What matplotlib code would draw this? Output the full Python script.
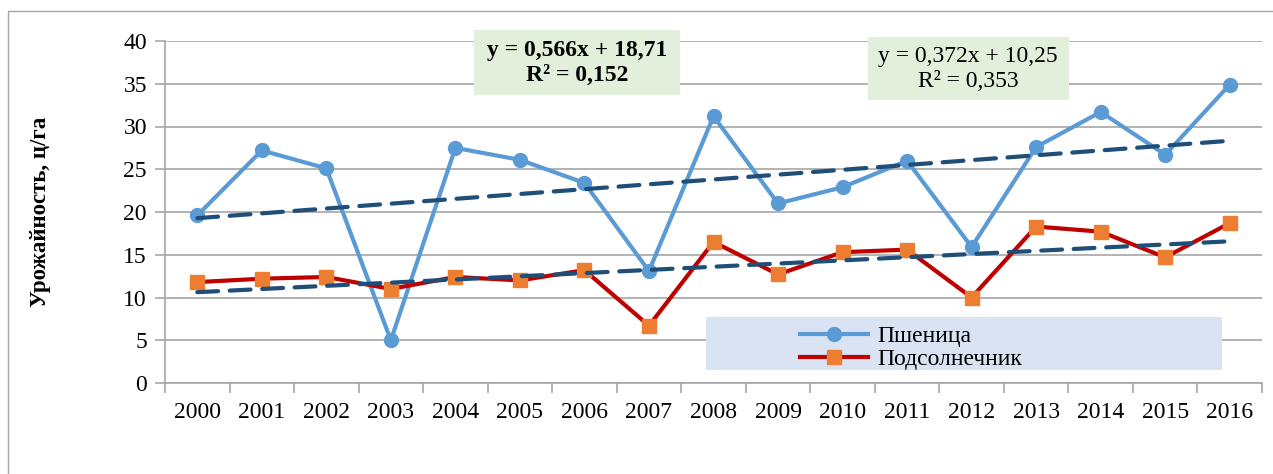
import matplotlib.pyplot as plt
from matplotlib.patches import Rectangle
from matplotlib.lines import Line2D

plt.rcParams['font.family'] = ['Liberation Serif', 'DejaVu Serif']

years = [str(y) for y in range(2000, 2017)]
wheat = [19.6, 27.2, 25.1, 5.0, 27.5, 26.1, 23.4, 13.1, 31.2, 21.0, 22.9, 26.0, 15.9, 27.6, 31.7, 26.7, 34.9]
sunflower = [11.8, 12.2, 12.4, 11.0, 12.4, 12.0, 13.2, 6.7, 16.5, 12.7, 15.3, 15.6, 10.0, 18.3, 17.7, 14.7, 18.7]

# coefficients of the linear trends shown on the chart
wheat_trend = (0.566, 18.71)
sunflower_trend = (0.372, 10.25)

W, H = 1273, 474
fig = plt.figure(figsize=(W / 100, H / 100), dpi=100)


def fx(px):
    return px / W


def fy(py):
    return 1 - py / H


# outer chart frame (only left and top edges visible)
fig.patches.append(Rectangle((fx(8), fy(600)), 2, fy(11) - fy(600), transform=fig.transFigure,
                             fill=False, edgecolor='#a6a6a6', linewidth=1.0))

ax = fig.add_axes([fx(165), fy(383), fx(1262) - fx(165), fy(41) - fy(383)])

x = list(range(len(years)))
ax.plot(x, wheat, color='#5b9bd5', linewidth=3, marker='o', markersize=10, zorder=3)
ax.plot(x, sunflower, color='#c00000', linewidth=3, marker='s', markersize=10,
        markerfacecolor='#ed7d31', markeredgecolor='#ed7d31', zorder=3)

for a, b in (wheat_trend, sunflower_trend):
    ty = [a * (i + 1) + b for i in x]
    ax.plot(x, ty, color='#1f4e79', linewidth=3, dashes=(5, 2.8),
            dash_capstyle='round', zorder=4)

ax.set_xlim(-0.5, len(years) - 0.5)
ax.set_ylim(0, 40)
ax.set_yticks(range(0, 41, 5))
ax.set_xticks(x)
ax.set_xticklabels(years)
ax.set_xticks([i - 0.5 for i in range(len(years) + 1)], minor=True)
ax.tick_params(axis='x', which='major', length=0, pad=14, labelsize=17)
ax.tick_params(axis='x', which='minor', length=7, width=1.2, color='#a6a6a6', direction='out')
ax.tick_params(axis='y', length=7, width=1.2, color='#a6a6a6', direction='out', pad=6, labelsize=17)

ax.grid(axis='y', color='#a6a6a6', linewidth=1.2)
ax.set_axisbelow(True)
for side in ('top', 'right'):
    ax.spines[side].set_visible(False)
ax.spines['left'].set_color('#a6a6a6')
ax.spines['bottom'].set_color('#a6a6a6')
ax.spines['left'].set_linewidth(1.2)
ax.spines['bottom'].set_linewidth(1.2)

fig.text(fx(41), fy(212), 'Урожайность, ц/га', rotation=90, ha='center', va='center',
         fontsize=16.5, fontweight='bold')

# trend equation boxes
fig.patches.append(Rectangle((fx(474), fy(95)), fx(680) - fx(474), fy(30) - fy(95),
                             transform=fig.transFigure, facecolor='#e2efda', edgecolor='none', zorder=5))
fig.text(fx(577), fy(63), 'y = 0,566x + 18,71\nR² = 0,152', ha='center', va='center',
         fontsize=17, fontweight='bold', linespacing=1.3, zorder=6)
fig.patches.append(Rectangle((fx(868), fy(100)), fx(1069) - fx(868), fy(37) - fy(100),
                             transform=fig.transFigure, facecolor='#e2efda', edgecolor='none', zorder=5))
fig.text(fx(968), fy(69), 'y = 0,372x + 10,25\nR² = 0,353', ha='center', va='center',
         fontsize=17, linespacing=1.3, zorder=6)

# legend
fig.patches.append(Rectangle((fx(706), fy(370)), fx(1222) - fx(706), fy(317) - fy(370),
                             transform=fig.transFigure, facecolor='#dae3f3', edgecolor='none', zorder=5))
handles = [
    Line2D([], [], color='#5b9bd5', linewidth=3, marker='o', markersize=10),
    Line2D([], [], color='#c00000', linewidth=3, marker='s', markersize=10,
           markerfacecolor='#ed7d31', markeredgecolor='#ed7d31'),
]
leg = fig.legend(handles, ['Пшеница', 'Подсолнечник'], loc='upper left',
                 bbox_to_anchor=(fx(783), fy(309)), frameon=False, fontsize=17,
                 handlelength=2.9, handletextpad=0.4, labelspacing=0.05, borderpad=0.2)
leg.set_zorder(6)

fig.savefig('out.png', dpi=100)
